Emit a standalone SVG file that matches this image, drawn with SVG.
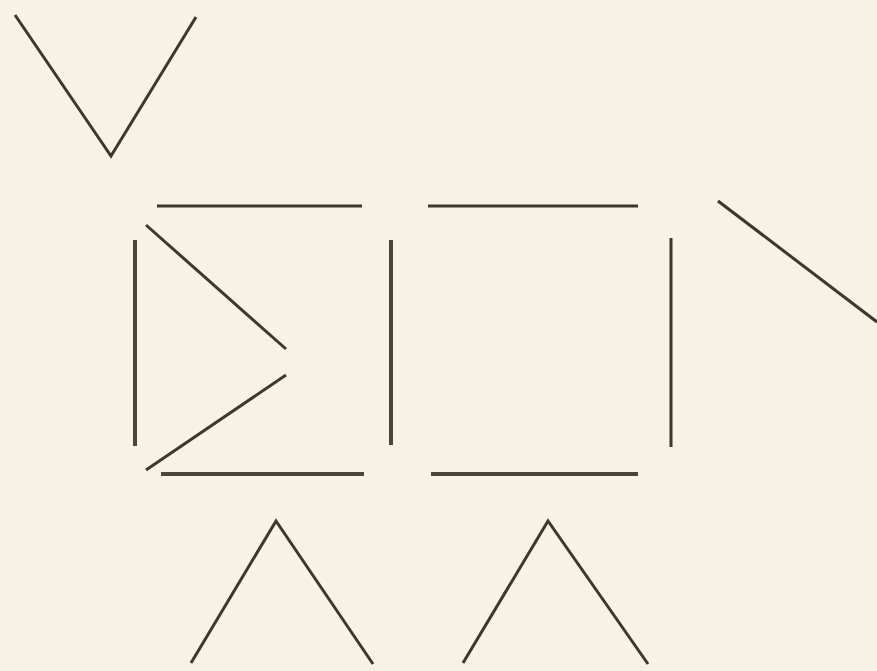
<svg xmlns="http://www.w3.org/2000/svg" width="877" height="671" viewBox="0 0 877 671">
<style>
.s{stroke:#3b3731;stroke-width:3;fill:none;stroke-linecap:butt;stroke-linejoin:miter}
.d{stroke:#4a463e;stroke-width:4;fill:none}
</style>
<rect width="877" height="671" fill="#f7f2e3"/>
<g id="v-top"><polyline class="s" points="15,15 111,156 196,17"/></g>
<g id="box1">
<line class="s" x1="157" y1="206" x2="362" y2="206"/>
<line class="d" x1="161" y1="474" x2="364" y2="474"/>
<line class="d" x1="135" y1="240" x2="135" y2="446"/>
<line class="s" x1="146" y1="225" x2="286" y2="349"/>
<line class="s" x1="286" y1="375" x2="146" y2="470"/>
</g>
<g id="box2">
<line class="d" x1="391" y1="240" x2="391" y2="445"/>
<line class="s" x1="428" y1="206" x2="638" y2="206"/>
<line class="d" x1="431" y1="474" x2="638" y2="474"/>
<line class="s" x1="671" y1="238" x2="671" y2="447"/>
</g>
<g id="diag"><line class="s" x1="718" y1="201" x2="877" y2="322"/></g>
<g id="caret1"><polyline class="s" points="191,663 276,521 373,664"/></g>
<g id="caret2"><polyline class="s" points="463,663 548,521 648,664"/></g>
</svg>
